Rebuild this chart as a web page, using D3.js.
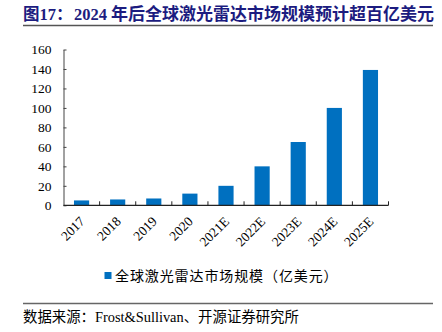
<!DOCTYPE html>
<html><head><meta charset="utf-8">
<script src="https://cdn.jsdelivr.net/npm/d3@7"></script>
<style>
html,body{margin:0;padding:0;background:#fff;}
svg{display:block;}
</style></head>
<body>
<svg id="chart" width="442" height="332"></svg>
<script>
const categories = ["2017","2018","2019","2020","2021E","2022E","2023E","2024E","2025E"];
const marketSize = [5, 6, 7, 12, 20, 40, 65, 100, 139];
const yTicks = [0,20,40,60,80,100,120,140,160];
const titleParts = ["图17：", "2024", "年后全球激光雷达市场规模预计超百亿美元"];
const legendLabel = "全球激光雷达市场规模（亿美元）";
const sourceText = "数据来源：Frost&Sullivan、开源证券研究所";

const svg = d3.select("#chart");
const serif = "'Liberation Serif','Times New Roman','Noto Sans CJK SC',serif";
const plotLeft = 63.5, plotRight = 388.5, plotTop = 49.5, plotBottom = 205.3;

// Title
const title = svg.append("text").attr("y", 19.5)
  .attr("font-family", serif).attr("font-weight", "bold")
  .attr("fill", "#1c1c80");
title.append("tspan").attr("x", 23).attr("font-size", 16.5).text(titleParts[0]);
title.append("tspan").attr("x", 74).attr("font-size", 16.5).text(titleParts[1]);
title.append("tspan").attr("x", 111).attr("font-size", 17).text(titleParts[2]);
svg.append("line").attr("x1", 23).attr("x2", 433).attr("y1", 25.5).attr("y2", 25.5)
  .attr("stroke", "#555").attr("stroke-width", 1.5);

const x = d3.scaleBand().domain(categories).range([plotLeft, plotRight])
  .paddingInner(0.58).paddingOuter(0.29);
const y = d3.scaleLinear().domain([0,160]).range([plotBottom, plotTop]);

// Bars
svg.append("g").selectAll("rect").data(categories).join("rect")
  .attr("x", d => x(d)).attr("width", x.bandwidth())
  .attr("y", (d,i) => y(marketSize[i])).attr("height", (d,i) => y(0) - y(marketSize[i]))
  .attr("fill", "#0070c0");

// Y axis
const yAxis = svg.append("g").attr("transform", `translate(${plotLeft},0)`)
  .call(d3.axisLeft(y).tickValues(yTicks).tickSize(-3).tickPadding(12).tickSizeOuter(0));
yAxis.select(".domain").attr("stroke", "#444");
yAxis.selectAll(".tick line").attr("stroke", "#444");
yAxis.selectAll(".tick text").attr("font-family", serif).attr("font-size", 13.5).attr("fill", "#000");

// X axis
const step = x.step();
const xAxis = svg.append("g").attr("transform", `translate(0,${plotBottom})`);
xAxis.append("line").attr("x1", plotLeft).attr("x2", plotRight).attr("stroke", "#222").attr("stroke-width", 1.2);
xAxis.selectAll("line.tk").data(d3.range(1, categories.length + 1)).join("line")
  .attr("class", "tk")
  .attr("x1", i => x(categories[i-1]) + x.bandwidth()/2 + step/2)
  .attr("x2", i => x(categories[i-1]) + x.bandwidth()/2 + step/2)
  .attr("y1", 0).attr("y2", -4).attr("stroke", "#222");
xAxis.selectAll("text").data(categories).join("text")
  .attr("transform", d => `translate(${x(d) + x.bandwidth()/2 + 4},${17}) rotate(-45)`)
  .attr("text-anchor", "end").attr("font-family", serif).attr("font-size", 13.5)
  .attr("fill", "#000").text(d => d);

// Legend
svg.append("rect").attr("x", 104.5).attr("y", 272).attr("width", 7).attr("height", 7).attr("fill", "#0070c0");
svg.append("text").attr("x", 115).attr("y", 280.5)
  .attr("font-family", "'Noto Sans CJK SC',sans-serif").attr("font-size", 14)
  .attr("letter-spacing", 0.9).attr("fill", "#000")
  .text(legendLabel);

// Source
svg.append("line").attr("x1", 23).attr("x2", 433).attr("y1", 303.5).attr("y2", 303.5)
  .attr("stroke", "#666").attr("stroke-width", 1.3);
svg.append("text").attr("x", 23).attr("y", 322)
  .attr("font-family", serif).attr("font-size", 14.4).attr("fill", "#000")
  .text(sourceText);
</script>
</body></html>
